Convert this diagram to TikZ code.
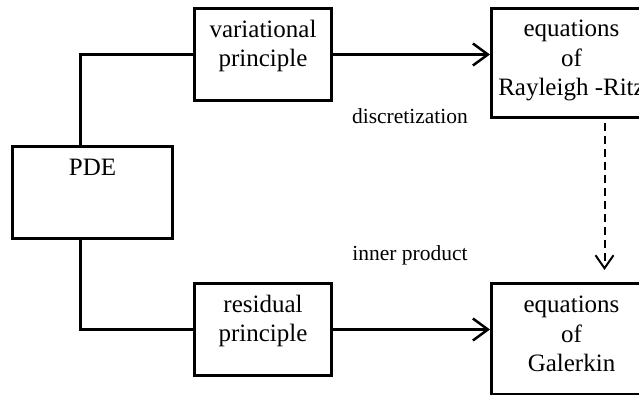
\documentclass[tikz,border=0pt]{standalone}
\usepackage{fontspec}
\setmainfont{Liberation Serif}
\usetikzlibrary{arrows.meta}
\tikzset{
  block/.style={draw, line width=3pt, inner sep=0pt, anchor=north west, align=center,
    font=\fontsize{25}{29.5}\selectfont},
  link/.style={line width=2.5pt},
  flow/.style={line width=2.5pt, -{Straight Barb[length=15pt,width=22pt]}},
  hint/.style={line width=2pt, dash pattern=on 8pt off 5pt, -{Straight Barb[length=13pt,width=18pt]}},
  note/.style={anchor=base, font=\fontsize{21.5}{25}\selectfont}
}

\begin{document}
\begin{tikzpicture}[x=1pt, y=-1pt]
  \useasboundingbox (0,0) rectangle (639,394);
  \clip (0,0) rectangle (639,394);

  \node[block, minimum width=160pt, text height=29pt, text depth=63pt] (pde) at (11,145) {PDE};
  \node[block, minimum width=137pt, text height=58pt, text depth=34pt] (var) at (193,7) {variational\\principle};
  \node[block, minimum width=137pt, text height=58pt, text depth=34pt] (res) at (193,282) {residual\\principle};
  \node[block, minimum width=160pt, text height=87pt, text depth=22pt] (rr) at (490,7) {equations\\of\\Rayleigh -Ritz};
  \node[block, minimum width=160pt, text height=88pt, text depth=23pt] (gal) at (490,282) {equations\\of\\Galerkin};

  \node[note] (disc) at (410,123) {discretization};
  \node[note] (inner) at (410,260) {inner product};

  \draw[link] ([xshift=-12pt]pde.north) |- (var.west);
  \draw[link] ([xshift=-12pt]pde.south) |- (res.west);
  \draw[flow] (var.east) -- (var.east -| rr.west);
  \draw[flow] (res.east) -- (res.east -| gal.west);
  \draw[hint] ([xshift=33pt, yshift=-4pt]rr.south) -- ([xshift=33pt, yshift=12pt]gal.north);
\end{tikzpicture}
\end{document}
